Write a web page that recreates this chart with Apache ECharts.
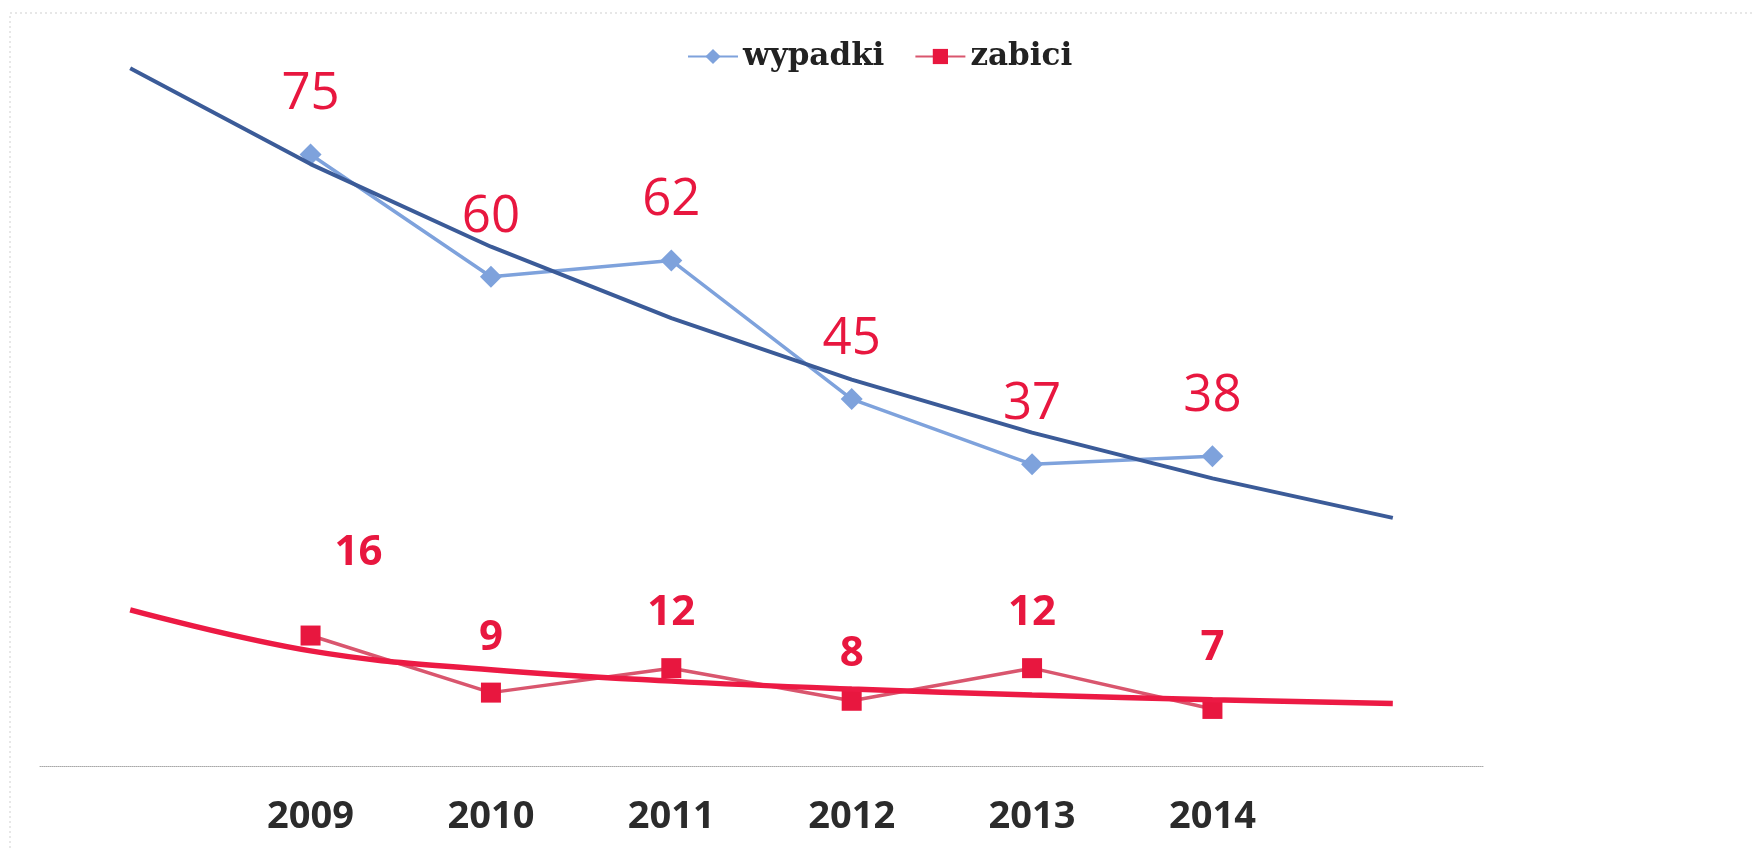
<!DOCTYPE html>
<html>
<head>
<meta charset="utf-8">
<script src="https://cdn.jsdelivr.net/npm/echarts@6/dist/echarts.min.js"></script>
<style>
html,body{margin:0;padding:0;background:#fff;}
#chart{width:1755px;height:848px;}
</style>
</head>
<body>
<div id="chart"></div>
<script>
// ---- data ----
const years = ['2009', '2010', '2011', '2012', '2013', '2014'];
const wypadki = [75, 60, 62, 45, 37, 38];
const zabici = [16, 9, 12, 8, 12, 7];
const seriesNames = ['wypadki', 'zabici'];

// ---- derived: category slots incl. one forecast period before and after ----
const cats = [''].concat(years, ['']);
const padded = arr => [null].concat(arr, [null]);

// exponential trendline (least squares on ln y), x = slot index
function expTrend(vals) {
  const xs = vals.map((v, i) => i + 1);
  const ly = vals.map(v => Math.log(v));
  const n = vals.length;
  const mx = xs.reduce((a, b) => a + b, 0) / n;
  const my = ly.reduce((a, b) => a + b, 0) / n;
  let sxy = 0, sxx = 0;
  xs.forEach((x, i) => { sxy += (x - mx) * (ly[i] - my); sxx += (x - mx) * (x - mx); });
  const b = sxy / sxx, a = my - b * mx;
  return cats.map((c, k) => +Math.exp(a + b * k).toFixed(3));
}
// power trendline (least squares on ln x, ln y), x = slot index + 1
function powTrend(vals) {
  const lx = vals.map((v, i) => Math.log(i + 2));
  const ly = vals.map(v => Math.log(v));
  const n = vals.length;
  const mx = lx.reduce((a, b) => a + b, 0) / n;
  const my = ly.reduce((a, b) => a + b, 0) / n;
  let sxy = 0, sxx = 0;
  lx.forEach((x, i) => { sxy += (x - mx) * (ly[i] - my); sxx += (x - mx) * (x - mx); });
  const b = sxy / sxx, a = my - b * mx;
  return cats.map((c, k) => +Math.exp(a + b * Math.log(k + 1)).toFixed(3));
}

const RED = '#e8173f';
const labelFont = '"Open Sans", "Liberation Sans", sans-serif';

// label nudges (layout only)
const zabLabelNudge = [[48, -28], [0, 0], [0, 0], [0, 8], [0, 0], [0, -6]];

const zabData = padded(zabici).map((v, k) => {
  if (v === null) return null;
  const nudge = zabLabelNudge[k - 1];
  return { value: v, label: { offset: nudge } };
});

const chart = echarts.init(document.getElementById('chart'), null, { renderer: 'canvas' });
chart.setOption({
  animation: false,
  backgroundColor: '#ffffff',
  graphic: [{
    type: 'rect',
    silent: true,
    z: -10,
    shape: { x: 10, y: 13, width: 1800, height: 900 },
    style: { fill: 'none', stroke: '#cfcfcf', lineWidth: 1, lineDash: [2, 3] }
  }],
  legend: {
    data: seriesNames,
    left: 682,
    top: 36,
    itemWidth: 50,
    itemHeight: 19,
    itemGap: 30,
    textStyle: {
      fontFamily: '"DejaVu Serif", "Liberation Serif", serif',
      fontWeight: 'bold',
      fontSize: 31,
      color: '#222222'
    }
  },
  grid: { left: 40, right: 272, top: 24, bottom: 82, containLabel: false },
  xAxis: {
    type: 'category',
    data: cats,
    boundaryGap: true,
    axisLine: { show: true, lineStyle: { color: '#a8a8a8', width: 1, type: 'dotted' } },
    axisTick: { show: false },
    axisLabel: {
      margin: 32,
      fontFamily: labelFont,
      fontWeight: 'bold',
      fontSize: 38,
      color: '#2b2b2b'
    },
    splitLine: { show: false }
  },
  yAxis: {
    type: 'value',
    min: 0,
    max: 91,
    show: false,
    splitLine: { show: false }
  },
  series: [
    {
      name: 'wypadki',
      type: 'line',
      data: padded(wypadki),
      symbol: 'diamond',
      symbolSize: 22,
      connectNulls: false,
      z: 3,
      lineStyle: { color: '#7ea2dc', width: 3.5 },
      itemStyle: { color: '#7ea2dc' },
      label: {
        show: true,
        position: 'top',
        distance: 23,
        fontFamily: labelFont,
        fontSize: 51,
        lineHeight: 51,
        color: RED
      }
    },
    {
      name: 'zabici',
      type: 'line',
      data: zabData,
      symbol: 'rect',
      symbolSize: 20,
      z: 3,
      lineStyle: { color: '#d9566e', width: 3.5 },
      itemStyle: { color: RED },
      label: {
        show: true,
        position: 'top',
        distance: 24,
        fontFamily: labelFont,
        fontWeight: 'bold',
        fontSize: 42,
        lineHeight: 42,
        color: RED
      }
    },
    {
      name: 'trend wypadki',
      type: 'line',
      data: expTrend(wypadki),
      smooth: false,
      symbol: 'none',
      z: 4,
      lineStyle: { color: '#3b5b98', width: 4 },
      tooltip: { show: false }
    },
    {
      name: 'trend zabici',
      type: 'line',
      data: powTrend(zabici),
      smooth: 0.4,
      symbol: 'none',
      z: 4,
      lineStyle: { color: '#ec1a44', width: 5.5 },
      tooltip: { show: false }
    }
  ]
});
</script>
</body>
</html>
